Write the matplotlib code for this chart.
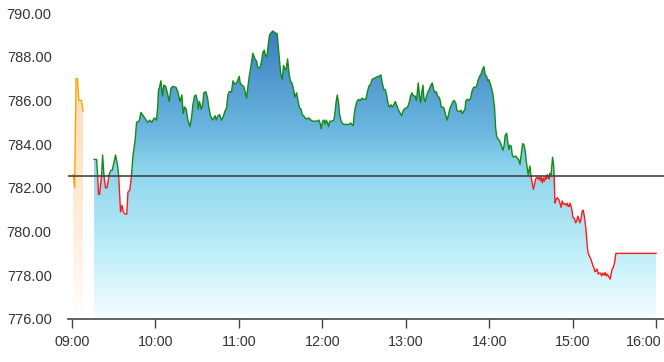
import numpy as np
import matplotlib
matplotlib.use('Agg')
import matplotlib.pyplot as plt
import matplotlib.transforms as mtransforms
from matplotlib.colors import LinearSegmentedColormap
from matplotlib.patches import Polygon

plt.rcParams['font.family'] = ['Liberation Sans', 'DejaVu Sans']

# ========= data (minutes after 09:00, price) =========
prev_close = 782.55

pre_minutes = [1, 2, 3, 4, 5, 6, 7, 8]
pre_price = [782.6, 782.0, 787.0, 787.0, 786.0, 786.0, 786.0, 785.5]

minutes = [
    16.0, 17.8, 18.5, 19.2, 19.9, 21.4, 22.1, 23.0, 24.2, 25.2, 26.8, 28.0, 29.0, 31.4, 32.9, 33.6,
    35.0, 36.0, 36.9, 38.1, 39.5, 40.3, 41.7, 42.9, 43.9, 45.5, 46.5, 48.4, 49.6, 51.3, 53.4, 54.6,
    56.1, 57.5, 59.2, 60.9, 61.8, 62.3, 62.8, 64.0, 65.2, 66.1, 67.4, 68.8, 70.0, 71.2, 72.6, 74.8,
    76.2, 77.7, 79.1, 80.0, 81.0, 82.2, 83.4, 84.8, 86.0, 87.0, 88.2, 89.2, 90.4, 90.8, 91.8, 93.0,
    94.0, 94.9, 96.3, 97.6, 98.5, 99.7, 101.2, 102.1, 103.0, 103.8, 105.0, 106.2, 107.6, 108.8, 110.0,
    111.2, 112.2, 113.1, 114.8, 115.8, 117.0, 118.4, 119.4, 120.3, 121.0, 122.2, 123.5, 124.6, 125.6,
    126.5, 127.5, 128.7, 130.1, 131.6, 132.8, 133.7, 135.2, 136.4, 137.3, 138.3, 139.3, 140.2, 141.1,
    142.1, 143.3, 144.5, 146.0, 147.6, 148.8, 150.1, 151.2, 152.2, 153.4, 154.1, 155.1, 156.0, 157.0,
    158.2, 159.4, 160.3, 161.6, 162.5, 163.7, 164.7, 165.6, 166.6, 167.5, 169.0, 170.4, 171.8, 173.3,
    174.7, 176.2, 177.6, 178.5, 179.2, 180.3, 181.2, 182.1, 182.8, 183.8, 184.5, 185.5, 186.9, 188.4,
    189.3, 190.0, 190.8, 191.8, 192.5, 193.4, 194.4, 196.1, 197.7, 199.2, 200.4, 201.3, 202.3, 203.0,
    203.7, 204.9, 206.1, 207.3, 208.5, 209.9, 211.4, 212.3, 213.5, 214.8, 215.9, 217.1, 218.6, 220.0,
    220.9, 222.2, 223.1, 224.3, 225.3, 226.3, 227.2, 228.1, 229.4, 230.3, 231.5, 232.5, 233.7, 234.9,
    235.8, 237.1, 238.0, 238.9, 240.1, 241.4, 242.5, 243.5, 244.5, 245.2, 246.1, 246.8, 247.6, 248.1,
    249.0, 249.7, 250.7, 251.7, 252.4, 253.1, 254.0, 255.0, 256.0, 256.9, 258.1, 259.1, 260.1, 261.1,
    262.0, 263.0, 263.9, 264.8, 265.5, 266.5, 267.5, 268.7, 269.8, 270.8, 271.8, 273.0, 273.9, 274.9,
    276.1, 276.8, 277.8, 279.0, 279.9, 280.7, 281.7, 282.6, 283.3, 284.5, 285.4, 286.7, 287.6, 288.8,
    290.0, 291.0, 291.9, 293.1, 294.1, 295.3, 296.2, 297.2, 298.2, 298.9, 299.8, 301.1, 302.0, 302.9,
    303.9, 304.6, 305.4, 306.3, 307.7, 308.9, 309.9, 310.8, 311.5, 312.6, 313.3, 314.2, 314.9, 315.9,
    316.6, 317.6, 318.6, 319.5, 320.2, 321.2, 322.2, 323.1, 324.1, 325.1, 326.0, 326.7, 327.4, 328.1,
    329.3, 330.0, 331.0, 331.7, 332.4, 333.4, 334.4, 335.3, 336.1, 336.8, 337.5, 338.2, 338.9, 339.6,
    340.4, 341.1, 341.8, 342.5, 343.2, 343.7, 344.4, 345.1, 345.6, 346.4, 346.8, 347.3, 348.0, 349.0,
    350.2, 350.9, 351.8, 352.5, 353.5, 354.5, 355.4, 356.1, 356.8, 357.5, 358.1, 358.8, 359.5, 360.2,
    361.2, 362.2, 362.9, 363.8, 364.5, 365.3, 366.0, 366.9, 367.6, 368.6, 369.6, 370.3, 371.0, 371.9,
    372.9, 373.9, 374.6, 375.3, 376.0, 376.8, 377.5, 378.4, 379.1, 380.1, 380.8, 381.8, 382.7, 383.4,
    384.2, 384.9, 385.6, 386.3, 387.0, 387.7, 388.4, 389.2, 390.2, 391.1, 391.9, 420.0,
]
price = [
    783.3, 783.3, 782.6, 781.7, 781.7, 782.6, 783.5, 782.6, 782.0, 782.0, 782.6, 782.8, 782.8, 783.5, 783.0, 782.6,
    780.9, 781.2, 780.9, 780.8, 780.8, 781.8, 781.9, 782.6, 783.45, 784.2, 785.0, 785.05, 785.45, 785.3, 785.1, 785.0,
    785.1, 785.0, 785.2, 785.1, 785.8, 786.5, 786.55, 786.9, 786.2, 786.7, 786.65, 786.3, 785.95, 786.55, 786.65, 786.6,
    786.4, 785.95, 786.25, 785.4, 785.7, 785.6, 785.1, 784.8, 785.2, 785.8, 786.2, 786.25, 785.95, 785.6, 785.95, 785.6,
    785.8, 786.35, 786.4, 786.1, 785.65, 785.3, 785.1, 785.2, 785.3, 785.1, 785.3, 785.35, 785.1, 785.25, 785.5,
    785.65, 786.25, 786.4, 786.4, 786.9, 786.75, 786.8, 786.95, 787.1, 786.8, 786.7, 786.65, 786.4, 786.1,
    786.6, 787.1, 787.55, 788.16, 787.9, 787.8, 787.5, 787.5, 787.8, 788.2, 788.3, 788.05, 788.0, 788.5,
    789.0, 789.1, 789.18, 789.1, 789.05, 788.16, 787.25, 786.97, 787.6, 787.4, 787.45, 787.9, 787.3, 786.9,
    786.8, 786.5, 786.15, 786.35, 786.0, 785.65, 785.6, 785.35, 785.3, 785.2, 785.15, 785.2, 785.1, 785.05,
    785.05, 785.05, 785.1, 784.95, 784.7, 785.05, 785.1, 784.9, 785.1, 784.98, 784.8, 785.05, 785.05, 785.1,
    785.5, 785.95, 786.25, 785.85, 785.35, 785.1, 784.95, 784.9, 784.9, 784.9, 784.97, 784.9, 784.85, 785.35,
    785.65, 785.95, 786.05, 786.0, 786.1, 786.05, 786.05, 786.35, 786.65, 786.75, 786.97, 787.0, 787.05, 787.1,
    787.1, 787.17, 786.8, 786.5, 786.5, 786.25, 785.9, 785.7, 785.8, 785.7, 785.8, 785.95, 785.75, 785.55,
    785.45, 785.3, 785.5, 785.6, 785.65, 785.7, 785.9, 786.2, 786.35, 786.25, 786.2, 786.2, 786.0, 786.2,
    786.8, 786.35, 785.9, 786.4, 786.7, 786.1, 785.95, 786.2, 786.4, 786.5, 786.7, 786.8, 786.5, 786.35,
    786.4, 786.2, 786.15, 786.0, 785.7, 785.7, 785.65, 785.35, 785.1, 785.35, 785.65, 785.8, 785.95, 786.0,
    785.85, 785.55, 785.5, 785.5, 785.55, 785.4, 785.5, 785.6, 786.0, 786.05, 786.0, 786.1, 786.4, 786.6,
    786.6, 786.65, 786.9, 787.1, 787.2, 787.43, 787.55, 787.17, 787.1, 786.9, 786.95, 786.7, 786.5, 786.2,
    785.65, 784.8, 784.33, 784.25, 784.13, 783.9, 783.72, 783.95, 784.4, 784.5, 784.13, 783.75, 783.95, 783.9,
    783.5, 783.4, 783.45, 783.43, 783.35, 783.3, 783.07, 783.55, 784.03, 783.95, 783.65, 783.2, 782.9, 782.6,
    783.0, 782.55, 782.23, 781.93, 782.08, 782.4, 782.48, 782.4, 782.5, 782.33, 782.48, 782.23, 782.45, 782.3,
    782.5, 782.4, 782.6, 782.48, 782.4, 782.66, 782.55, 783.07, 783.4, 783.0, 782.4, 781.3, 781.45, 781.55,
    781.45, 781.3, 781.1, 781.4, 781.25, 781.28, 781.2, 781.3, 781.15, 781.15, 781.3, 781.16, 781.0, 780.64,
    780.6, 780.4, 780.48, 780.7, 780.56, 780.4, 780.56, 780.94, 780.98, 780.64, 780.1, 779.5, 779.04, 778.9,
    778.77, 778.58, 778.43, 778.35, 778.16, 778.2, 778.28, 778.05, 778.1, 778.1, 777.97, 778.1, 778.0, 778.13,
    777.97, 778.05, 777.97, 777.9, 777.82, 778.05, 778.28, 778.35, 778.58, 779.0, 779.0, 779.0,
]

y_ticks = [776, 778, 780, 782, 784, 786, 788, 790]
x_tick_labels = ['09:00', '10:00', '11:00', '12:00', '13:00', '14:00', '15:00', '16:00']


def split_line(x, y, level):
    # insert crossing points so the colour switches exactly at the level
    xs, ys = [x[0]], [y[0]]
    for i in range(1, len(x)):
        if (y[i - 1] - level) * (y[i] - level) < 0:
            t = (level - y[i - 1]) / (y[i] - y[i - 1])
            xs.append(x[i - 1] + t * (x[i] - x[i - 1]))
            ys.append(level)
        xs.append(x[i])
        ys.append(y[i])
    xs, ys = np.array(xs), np.array(ys)
    up = np.where(ys >= level, ys, np.nan)
    dn = np.where(ys <= level, ys, np.nan)
    return xs, up, dn


def gradient_fill(ax, x, y, cmap, ybot):
    verts = [(x[0], ybot)] + list(zip(x, y)) + [(x[-1], ybot)]
    poly = Polygon(verts, facecolor='none', edgecolor='none')
    ax.add_patch(poly)
    grad = np.linspace(0, 1, 256).reshape(-1, 1)
    im = ax.imshow(grad, aspect='auto', cmap=cmap, origin='lower',
                   extent=[min(x), max(x), ybot, max(y)], zorder=1,
                   interpolation='bilinear')
    im.set_clip_path(poly)


fig = plt.figure(figsize=[6.64, 3.62], dpi=100)
ax = fig.add_axes([0.103, 0.119, 0.897, 0.845])

blue_cmap = LinearSegmentedColormap.from_list(
    'blues', [(0.0, '#f5fdff'), (0.24, '#bdeef8'), (0.52, '#8dd4ec'),
              (0.66, '#6ab6df'), (1.0, '#3b7ec2')])
orange_cmap = LinearSegmentedColormap.from_list(
    'oranges', [(0.0, '#ffffff'), (0.35, '#ffeedd'), (1.0, '#ffdcb4')])

gradient_fill(ax, pre_minutes, pre_price, orange_cmap, 776)
gradient_fill(ax, minutes, price, blue_cmap, 776)

ax.plot(pre_minutes, pre_price, c='#ffa500', lw=1.0, zorder=3)
xs, up, dn = split_line(minutes, price, prev_close)
ax.plot(xs, up, c='#138a13', lw=1.0, zorder=3)
ax.plot(xs, dn, c='#ff1a1a', lw=1.0, zorder=3)

ax.axhline(prev_close, c='#444444', lw=1.2, zorder=4)

ax.set_xlim(-2.5, 425.7)
ax.set_ylim(776, 790)
ax.set_xticks(np.arange(0, 421, 60))
ax.set_xticklabels(x_tick_labels)
ax.set_yticks(y_ticks)
ax.set_yticklabels(['%.2f' % v for v in y_ticks])

for s in ['top', 'right', 'left']:
    ax.spines[s].set_visible(False)
ax.spines['bottom'].set_color('#555555')
ax.spines['bottom'].set_linewidth(1.3)
ax.spines['bottom'].set_zorder(5)
ax.tick_params(axis='y', length=0, pad=12, labelsize=10.5, labelcolor='#333333')
ax.tick_params(axis='x', length=6.5, width=1, color='#444444', pad=5,
               labelsize=10.3, labelcolor='#333333')

# keep the last time label inside the figure
last = ax.get_xticklabels()[-1]
last.set_transform(last.get_transform() +
                   mtransforms.ScaledTranslation(-0.12, 0, fig.dpi_scale_trans))

plt.savefig('out.png', dpi=100)
plt.close(fig)
